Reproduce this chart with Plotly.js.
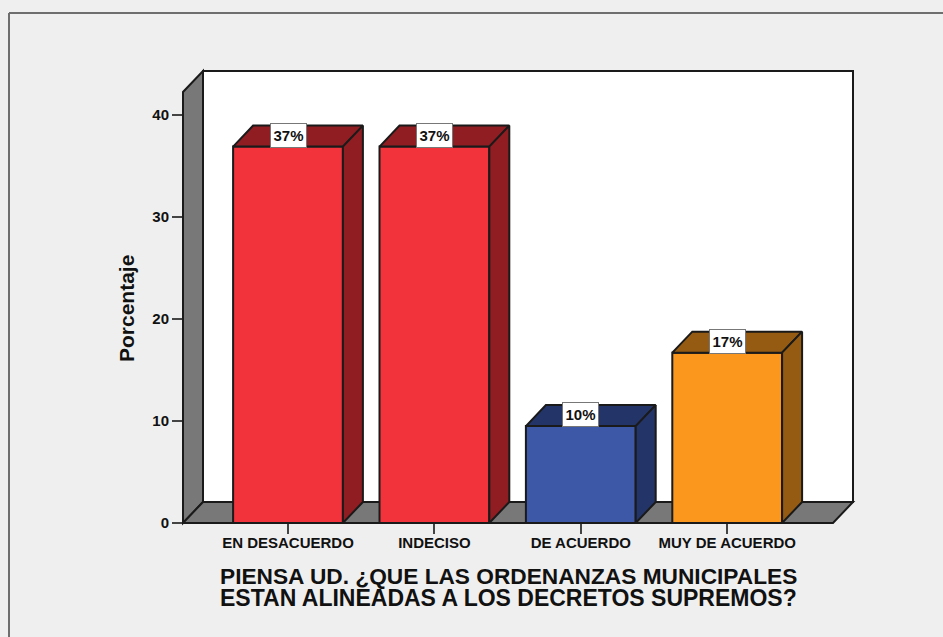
<!DOCTYPE html>
<html><head><meta charset="utf-8">
<script src="https://cdn.plot.ly/plotly-3.0.1.min.js"></script>
<style>html,body{margin:0;padding:0;background:#efefef;overflow:hidden}</style>
</head><body><div id="chart" style="width:943px;height:637px"></div>
<script>
const categories = ["EN DESACUERDO", "INDECISO", "DE ACUERDO", "MUY DE ACUERDO"];
const values = [36.9, 36.9, 9.5, 16.7];
const valueLabels = ["37%", "37%", "10%", "17%"];
const yTicks = [0, 10, 20, 30, 40];
const xTitleLines = ["PIENSA UD. ¿QUE LAS ORDENANZAS MUNICIPALES", "ESTAN ALINEADAS A LOS DECRETOS SUPREMOS?"];
const yTitle = "Porcentaje";
const frontColors = ["#f2333b", "#f2333b", "#3e58a8", "#fa971c"];
const darkColors = ["#8f1d22", "#8f1d22", "#233468", "#955b12"];

const W = 943, H = 637, L = 183, R = 853, T = 71, B = 523;
const pxPerCat = 146.4, pxPerUnit = 10.2, x0px = 288;
const depthPx = 20, depthPy = 21;
const xr = [(L - x0px) / pxPerCat, (R - x0px) / pxPerCat];
const yr = [0, (B - T) / pxPerUnit];
const dx = depthPx / pxPerCat, dy = depthPy / pxPerUnit, bw = 0.75;
const INK = "#1a1a1a", WALL = "#787878", FONT = "Liberation Sans, Arial, sans-serif";

const fx = v => (v - xr[0]) / (xr[1] - xr[0]);
const fy = v => (v - yr[0]) / (yr[1] - yr[0]);
const pathOf = pts => "M" + pts.map(p => fx(p[0]) + "," + fy(p[1])).join("L") + "Z";
const wall = (pts, fill) => ({type: "path", xref: "paper", yref: "paper", layer: "below",
  path: pathOf(pts), fillcolor: fill, line: {color: INK, width: 2}});

const xa = xr[0], xb = xr[1] - dx, yt = yr[1] - dy;
const shapes = [
  {type: "line", xref: "paper", yref: "paper", layer: "below", x0: (9 - L) / (R - L), x1: (W + 5 - L) / (R - L),
   y0: (B - 13) / (B - T), y1: (B - 13) / (B - T), line: {color: "#6e6e6e", width: 2}},
  {type: "line", xref: "paper", yref: "paper", layer: "below", x0: (9 - L) / (R - L), x1: (9 - L) / (R - L),
   y0: (B - 13) / (B - T), y1: (B - H - 5) / (B - T), line: {color: "#6e6e6e", width: 2}},
  wall([[xa + dx, dy], [xb + dx, dy], [xb + dx, yr[1]], [xa + dx, yr[1]]], "#ffffff"),
  wall([[xa, 0], [xa + dx, dy], [xa + dx, yr[1]], [xa, yt]], WALL),
  wall([[xa, 0], [xb, 0], [xb + dx, dy], [xa + dx, dy]], WALL)
];

const traces = [{
  type: "bar", x: categories.map((c, i) => i), y: values, width: bw,
  marker: {color: frontColors, line: {color: INK, width: 2}}, hoverinfo: "skip"
}];
values.forEach((v, i) => {
  const l = i - bw / 2, r = i + bw / 2;
  traces.push({type: "scatter", mode: "lines", fill: "toself", fillcolor: darkColors[i],
    x: [l, r, r + dx, l + dx, l], y: [v, v, v + dy, v + dy, v],
    line: {color: INK, width: 2}, hoverinfo: "skip", cliponaxis: false});
  traces.push({type: "scatter", mode: "lines", fill: "toself", fillcolor: darkColors[i],
    x: [r, r + dx, r + dx, r, r], y: [0, dy, v + dy, v, 0],
    line: {color: INK, width: 2}, hoverinfo: "skip", cliponaxis: false});
});

const annotations = values.map((v, i) => ({
  x: i, y: v, xref: "x", yref: "y", text: valueLabels[i], showarrow: false,
  xanchor: "center", yanchor: "bottom", yshift: -1, width: 35, height: 23,
  font: {family: FONT, size: 15, color: "#111111", weight: 700},
  bgcolor: "#ffffff", bordercolor: "#777777", borderwidth: 1, borderpad: 0
}));
xTitleLines.forEach((t, i) => annotations.push({
  xref: "paper", yref: "paper", x: (508 - L) / (R - L), y: (B - (576 + i * 21.5)) / (B - T),
  text: t, showarrow: false, xanchor: "center", yanchor: "middle",
  font: {family: FONT, size: i === 0 ? 22.7 : 23, color: "#111111", weight: 700}
}));
annotations.push({
  xref: "paper", yref: "paper", x: (126 - L) / (R - L), y: (B - 309) / (B - T), text: yTitle,
  textangle: -90, showarrow: false, xanchor: "center", yanchor: "middle",
  font: {family: FONT, size: 21, color: "#111111", weight: 700}
});

const layout = {
  width: W, height: H, paper_bgcolor: "#efefef", plot_bgcolor: "rgba(0,0,0,0)",
  margin: {l: L, r: W - R, t: T, b: H - B, pad: 0}, showlegend: false, bargap: 0,
  xaxis: {range: xr, tickmode: "array", tickvals: categories.map((c, i) => i), ticktext: categories,
    ticks: "outside", ticklen: 10, tickwidth: 2, tickcolor: "#444444", showgrid: false, zeroline: false,
    showline: false, fixedrange: true, tickangle: 0, ticklabelstandoff: -4,
    tickfont: {family: FONT, size: 15, color: "#111111", weight: 700}},
  yaxis: {range: yr, tickmode: "array", tickvals: yTicks, ticks: "outside", ticklen: 10, tickwidth: 2,
    tickcolor: "#444444", showgrid: false, zeroline: false, showline: false, fixedrange: true,
    tickfont: {family: FONT, size: 15, color: "#111111", weight: 700}},
  shapes, annotations
};
Plotly.newPlot("chart", traces, layout, {displayModeBar: false, staticPlot: true});
</script></body></html>
